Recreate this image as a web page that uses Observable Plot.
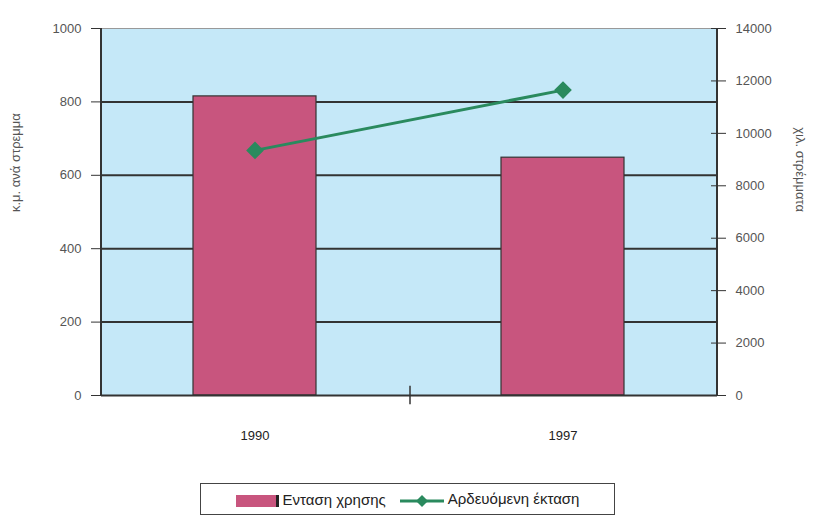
<!DOCTYPE html>
<html>
<head>
<meta charset="utf-8">
<script src="https://cdn.jsdelivr.net/npm/d3@7"></script>
<script src="https://cdn.jsdelivr.net/npm/@observablehq/plot@0.6"></script>
<style>
  body { margin: 0; background: #fff; font-family: "Liberation Sans", Arial, sans-serif; }
  #wrap { position: relative; width: 813px; height: 528px; }
  #legend { position: absolute; left: 200px; top: 483px; width: 415px; height: 32px; border: 1.5px solid #444;
    display: flex; align-items: center; justify-content: center; gap: 14px; font-size: 15px; color: #222; box-sizing: border-box; }
  .sw { display: inline-block; width: 40px; height: 12px; background: #c8557e; border-right: 3px solid #222; vertical-align: middle; margin-right: 4px; }
</style>
</head>
<body>
<div id="wrap">
<div id="chart"></div>
<div id="legend">
  <span><span class="sw"></span>Ενταση χρησης</span>
  <span><svg width="44" height="14" style="vertical-align:middle;margin-right:4px"><line x1="0" y1="7" x2="44" y2="7" stroke="#2a8a5e" stroke-width="3"/><path d="M22 1 L28 7 L22 13 L16 7 Z" fill="#2a8a5e"/></svg>Αρδευόμενη έκταση</span>
</div>
</div>
<script>
const years = ["1990", "1997"];
const intensity = [815, 648];       // κ.μ. ανά στρέμμα (left axis)
const irrigated = [9350, 11650];    // χιλ. στρέμματα (right axis)
const leftTicks = [0, 200, 400, 600, 800, 1000];
const rightTicks = [0, 2000, 4000, 6000, 8000, 10000, 12000, 14000];
const ratio = 14000 / 1000;

const bars = years.map((y, i) => ({year: y, value: intensity[i]}));
const line = years.map((y, i) => ({year: y, value: irrigated[i] / ratio}));

const chart = Plot.plot({
  width: 813,
  height: 528,
  marginLeft: 101,
  marginRight: 96,
  marginTop: 28,
  marginBottom: 133,
  style: {fontFamily: "Liberation Sans, Arial, sans-serif", fontSize: "13px", color: "#555", background: "#fff"},
  x: {type: "band", domain: years, paddingInner: 0.6, paddingOuter: 0.3, label: null, axis: null},
  y: {type: "linear", domain: [0, 1000], label: null, axis: null},
  marks: [
    Plot.frame({fill: "#c5e8f8", stroke: null}),
    Plot.ruleY([1000], {stroke: "#999", strokeWidth: 1}),
    Plot.ruleY([200, 400, 600, 800], {stroke: "#333", strokeWidth: 2}),
    Plot.barY(bars, {x: "year", y: "value", fill: "#c8557e", stroke: "#333", strokeWidth: 1.2}),
    Plot.line(line, {x: "year", y: "value", stroke: "#2a8a5e", strokeWidth: 3}),
    Plot.dot(line, {x: "year", y: "value", symbol: "diamond2", r: 7, fill: "#2a8a5e", stroke: "#2a8a5e"}),
    Plot.axisY({anchor: "left", ticks: leftTicks, tickFormat: d => String(d), tickSize: 10, tickPadding: 10, stroke: "#333", fill: "#555", label: null, fontSize: 13}),
    Plot.axisY({anchor: "right", ticks: rightTicks.map(v => v / ratio), tickFormat: d => String(Math.round(d * ratio)), tickSize: 8, tickPadding: 10, stroke: "#333", fill: "#555", label: null, fontSize: 13}),
    Plot.axisY({anchor: "right", ticks: rightTicks.map(v => v / ratio), tickFormat: () => "", tickSize: -7, stroke: "#333", label: null}),
    Plot.ruleX([years[0]], {dx: -154, stroke: "#333", strokeWidth: 2}),
    Plot.ruleY([0], {stroke: "#333", strokeWidth: 2}),
    Plot.ruleX([years[1]], {dx: 154, stroke: "#333", strokeWidth: 2}),
    Plot.ruleX([years[1]], {dx: -153, y1: -25, y2: 25, stroke: "#333", strokeWidth: 1.5}),
    Plot.axisX({ticks: years, tickSize: 0, tickPadding: 35, fill: "#222", fontSize: 13, label: null}),
    Plot.text(["κ.μ. ανά στρεμμα"], {frameAnchor: "left", dx: -86, rotate: -90, fill: "#555", fontSize: 13}),
    Plot.text(["χιλ. στρέμματα"], {frameAnchor: "right", dx: 83, rotate: 90, fill: "#555", fontSize: 13})
  ]
});
document.getElementById("chart").appendChild(chart);
</script>
</body>
</html>
